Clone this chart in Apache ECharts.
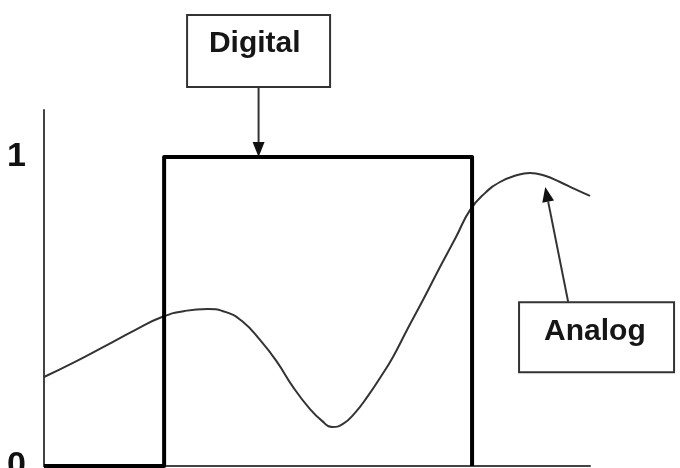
<!DOCTYPE html>
<html>
<head>
<meta charset="utf-8">
<script src="https://cdn.jsdelivr.net/npm/echarts@6/dist/echarts.min.js"></script>
<style>
  html, body { margin: 0; padding: 0; background: #fff; }
  #main { width: 680px; height: 468px; }
</style>
</head>
<body>
<div id="main"></div>
<script>
// analog wave
var analogX = [0, 0.568, 1.117, 1.667, 2.161, 2.582, 3.004, 3.333, 3.626, 3.956, 4.267, 4.560, 4.872, 5.092, 5.275, 5.476,
  5.696, 5.934, 6.154, 6.392, 6.648, 6.941, 7.253, 7.546, 7.802, 8.077, 8.352, 8.626, 8.901, 9.176, 9.451, 9.725, 10];
var analogY = [0.288, 0.337, 0.388, 0.440, 0.482, 0.502, 0.508, 0.498, 0.469, 0.408, 0.337, 0.256, 0.184, 0.146, 0.126, 0.136,
  0.172, 0.227, 0.285, 0.353, 0.440, 0.537, 0.644, 0.741, 0.828, 0.883, 0.919, 0.939, 0.948, 0.939, 0.919, 0.896, 0.874];

// digital pulse
var digitalX = [0, 2.2, 2.2, 7.84, 7.84];
var digitalY = [0, 0, 1, 1, 0];

// y tick labels
var yTicks = [0, 1];

// callouts: box centre, arrow start / end, all in data units
var digitalNote = { text: 'Digital', at: [3.93, 1.343], textAt: [3.86, 1.365], from: [3.93, 1.227], to: [3.93, 1.0] };
var analogNote = { text: 'Analog', at: [10.12, 0.417], textAt: [10.09, 0.434], from: [9.60, 0.531], to: [9.18, 0.903] };

function pairs(xs, ys) {
  var out = [];
  for (var i = 0; i < xs.length; i++) {
    out.push([xs[i], ys[i]]);
  }
  return out;
}

var chart = echarts.init(document.getElementById('main'));

var option = {
  animation: false,
  backgroundColor: '#fff',
  grid: { left: 44, right: 90, top: 110, bottom: 2, outerBoundsMode: 'none', containLabel: false },
  xAxis: {
    type: 'value',
    min: 0,
    max: 10,
    axisLine: { show: true, lineStyle: { color: '#444', width: 2 } },
    axisTick: { show: false },
    axisLabel: { show: false },
    splitLine: { show: false }
  },
  yAxis: {
    type: 'value',
    min: 0,
    max: 1.152,
    interval: 1,
    axisLine: { show: true, lineStyle: { color: '#444', width: 2 } },
    axisTick: { show: false },
    splitLine: { show: false },
    axisLabel: {
      showMaxLabel: false,
      margin: 18,
      fontFamily: 'Liberation Sans',
      fontWeight: 'bold',
      fontSize: 34,
      color: '#111',
      formatter: function(v) {
        return yTicks.indexOf(v) >= 0 ? String(v) : '';
      }
    }
  },
  series: [{
    name: 'Analog',
    type: 'line',
    data: pairs(analogX, analogY),
    smooth: 0.5,
    symbol: 'none',
    clip: false,
    lineStyle: { color: '#333', width: 2 }
  }, {
    name: 'Digital',
    type: 'line',
    data: pairs(digitalX, digitalY),
    symbol: 'none',
    clip: false,
    lineStyle: { color: '#000', width: 4, join: 'round' }
  }]
};

chart.setOption(option);

/**
 * callout box + arrow, placed through the axes
 */
function note(n, w, h) {
  var toPx = function(c) {
    return chart.convertToPixel({ gridIndex: 0 }, c);
  };
  var c = toPx(n.at);
  var t = toPx(n.textAt);
  var p0 = toPx(n.from);
  var p1 = toPx(n.to);
  var dx = p1[0] - p0[0], dy = p1[1] - p0[1];
  var len = Math.sqrt(dx * dx + dy * dy);
  var ux = dx / len, uy = dy / len;
  var headLen = 15, headW = 6;
  var bx = p1[0] - ux * headLen, by = p1[1] - uy * headLen;
  return [{
    type: 'line',
    silent: true,
    shape: { x1: p0[0], y1: p0[1], x2: bx, y2: by },
    style: { stroke: '#333', lineWidth: 2 }
  }, {
    type: 'polygon',
    silent: true,
    shape: { points: [p1, [bx - uy * headW, by + ux * headW], [bx + uy * headW, by - ux * headW]] },
    style: { fill: '#111' }
  }, {
    type: 'rect',
    silent: true,
    shape: { x: c[0] - w / 2, y: c[1] - h / 2, width: w, height: h },
    style: { fill: '#fff', stroke: '#333', lineWidth: 2 }
  }, {
    type: 'text',
    silent: true,
    x: t[0],
    y: t[1],
    style: {
      text: n.text,
      align: 'center',
      verticalAlign: 'middle',
      fontFamily: 'Liberation Sans',
      fontWeight: 'bold',
      fontSize: 30,
      fill: '#161616'
    }
  }];
}

chart.setOption({
  graphic: note(digitalNote, 143, 72).concat(note(analogNote, 155, 70))
});
</script>
</body>
</html>
